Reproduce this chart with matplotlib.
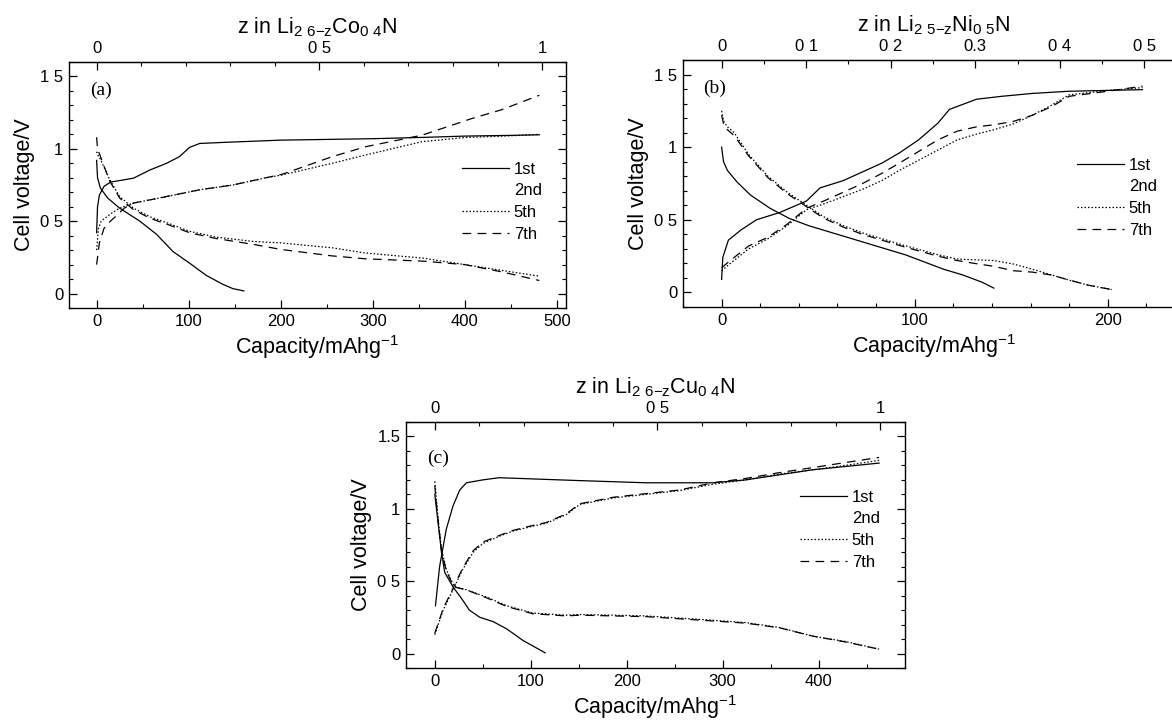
import numpy as np
import matplotlib
matplotlib.use("Agg")
import matplotlib.pyplot as plt
from matplotlib.ticker import MultipleLocator, FixedLocator, FixedFormatter
from matplotlib.lines import Line2D

plt.rcParams['font.family'] = ['Liberation Sans', 'DejaVu Sans']
plt.rcParams['mathtext.default'] = 'regular'

# ---- panel (a) Li2.6-zCo0.4N ----
a_1st_chg_x = [0, 1, 3, 8, 15, 29, 40, 58, 76, 90, 101, 112, 140, 200, 300, 360, 400, 450, 481]
a_1st_chg_y = [0.42, 0.6, 0.68, 0.74, 0.77, 0.785, 0.797, 0.854, 0.9, 0.946, 1.01, 1.037, 1.045, 1.06, 1.07, 1.08, 1.088, 1.093, 1.097]
a_1st_dis_x = [0, 1, 4, 12, 25, 47, 65, 83, 101, 119, 137, 148, 160]
a_1st_dis_y = [0.92, 0.8, 0.73, 0.66, 0.59, 0.5, 0.41, 0.29, 0.21, 0.126, 0.064, 0.034, 0.018]
a_5th_chg_x = [0, 2, 5, 15, 25, 40, 76, 112, 148, 184, 202, 256, 292, 354, 400, 450, 481]
a_5th_chg_y = [0.3, 0.45, 0.5, 0.55, 0.59, 0.625, 0.67, 0.717, 0.75, 0.8, 0.82, 0.9, 0.957, 1.05, 1.078, 1.09, 1.1]
a_7th_chg_x = [0, 3, 8, 15, 22, 30, 40, 76, 112, 148, 184, 202, 256, 292, 354, 408, 440, 481]
a_7th_chg_y = [0.2, 0.35, 0.45, 0.5, 0.54, 0.59, 0.625, 0.67, 0.717, 0.75, 0.8, 0.825, 0.946, 1.014, 1.095, 1.21, 1.27, 1.37]
a_5th_dis_x = [0, 1, 4, 14, 25, 40, 58, 76, 101, 130, 170, 200, 256, 292, 354, 400, 440, 481]
a_5th_dis_y = [0.98, 0.96, 0.93, 0.79, 0.67, 0.59, 0.53, 0.49, 0.43, 0.39, 0.36, 0.35, 0.316, 0.28, 0.245, 0.2, 0.16, 0.12]
a_7th_dis_x = [0, 1, 4, 14, 25, 40, 58, 76, 101, 130, 170, 200, 256, 292, 354, 400, 440, 481]
a_7th_dis_y = [1.08, 1.0, 0.95, 0.78, 0.66, 0.58, 0.52, 0.48, 0.42, 0.38, 0.34, 0.305, 0.26, 0.24, 0.224, 0.2, 0.15, 0.09]

# ---- panel (b) Li2.5-zNi0.5N ----
b_1st_chg_x = [0, 0.6, 3.5, 10, 18, 30, 44, 51, 63, 73, 83, 92, 102, 112, 118, 122, 132, 145, 161, 180, 218]
b_1st_chg_y = [0.09, 0.24, 0.36, 0.43, 0.5, 0.55, 0.63, 0.72, 0.77, 0.83, 0.89, 0.96, 1.05, 1.165, 1.26, 1.28, 1.33, 1.35, 1.37, 1.385, 1.396]
b_1st_dis_x = [0, 1, 3, 8, 15, 25, 35, 45, 55, 65, 75, 85, 95, 105, 115, 125, 135, 141]
b_1st_dis_y = [1.0, 0.9, 0.84, 0.76, 0.67, 0.58, 0.51, 0.46, 0.42, 0.38, 0.34, 0.3, 0.26, 0.21, 0.16, 0.12, 0.07, 0.03]
b_5th_chg_x = [0, 4.5, 14, 24, 34, 44, 53, 63, 73, 83, 92, 102, 112, 122, 132, 141, 151, 161, 171, 180, 200, 218]
b_5th_chg_y = [0.15, 0.2, 0.3, 0.37, 0.46, 0.57, 0.61, 0.66, 0.71, 0.77, 0.84, 0.91, 0.98, 1.05, 1.09, 1.12, 1.16, 1.22, 1.29, 1.36, 1.39, 1.41]
b_7th_chg_x = [0, 4.5, 14, 24, 34, 44, 53, 63, 73, 83, 92, 102, 112, 122, 132, 141, 151, 161, 171, 180, 200, 218]
b_7th_chg_y = [0.17, 0.22, 0.32, 0.38, 0.47, 0.58, 0.63, 0.69, 0.75, 0.82, 0.89, 0.97, 1.05, 1.11, 1.14, 1.154, 1.177, 1.22, 1.28, 1.35, 1.385, 1.42]
b_5th_dis_x = [0, 1, 3, 6.5, 14, 24, 34, 44, 53, 63, 73, 83, 93, 101, 112, 122, 131, 141, 151, 161, 171, 180, 190, 202]
b_5th_dis_y = [1.25, 1.18, 1.14, 1.1, 0.95, 0.8, 0.69, 0.6, 0.52, 0.46, 0.41, 0.37, 0.33, 0.3, 0.26, 0.23, 0.225, 0.22, 0.196, 0.16, 0.12, 0.085, 0.05, 0.02]
b_7th_dis_x = [0, 1, 3, 6.5, 14, 24, 34, 44, 53, 63, 73, 83, 93, 101, 112, 122, 131, 141, 151, 161, 171, 180, 190, 202]
b_7th_dis_y = [1.22, 1.16, 1.12, 1.08, 0.94, 0.79, 0.68, 0.59, 0.51, 0.45, 0.4, 0.36, 0.32, 0.29, 0.25, 0.22, 0.2, 0.18, 0.15, 0.14, 0.12, 0.085, 0.05, 0.02]

# ---- panel (c) Li2.6-zCu0.4N ----
c_1st_chg_x = [0.7, 5, 12, 19, 26, 33, 50, 67, 151, 220, 290, 324, 394, 463]
c_1st_chg_y = [0.33, 0.6, 0.86, 1.02, 1.13, 1.18, 1.2, 1.215, 1.195, 1.18, 1.18, 1.2, 1.27, 1.316]
c_1st_dis_x = [0, 3.5, 7, 10.4, 19, 29, 36, 47, 61, 75, 92, 115]
c_1st_dis_y = [1.1, 0.9, 0.7, 0.56, 0.46, 0.37, 0.3, 0.25, 0.22, 0.17, 0.09, 0.005]
c_5th_chg_x = [0, 8.7, 19, 29, 40, 50, 67, 81, 102, 116, 137, 151, 186, 220, 255, 290, 324, 359, 394, 428, 463]
c_5th_chg_y = [0.13, 0.3, 0.44, 0.58, 0.7, 0.76, 0.81, 0.845, 0.88, 0.9, 0.96, 1.03, 1.075, 1.1, 1.126, 1.17, 1.2, 1.24, 1.27, 1.3, 1.335]
c_7th_chg_x = [0, 8.7, 19, 29, 40, 50, 67, 81, 102, 116, 137, 151, 186, 220, 255, 290, 324, 359, 394, 428, 463]
c_7th_chg_y = [0.14, 0.31, 0.45, 0.59, 0.71, 0.77, 0.815, 0.85, 0.885, 0.905, 0.965, 1.035, 1.08, 1.105, 1.13, 1.18, 1.21, 1.25, 1.285, 1.32, 1.355]
c_5th_dis_x = [0, 3.5, 7, 12, 20, 33, 54, 75, 102, 137, 151, 220, 290, 324, 359, 394, 428, 463]
c_5th_dis_y = [1.19, 0.93, 0.72, 0.58, 0.465, 0.44, 0.39, 0.33, 0.28, 0.265, 0.27, 0.26, 0.23, 0.214, 0.18, 0.12, 0.083, 0.03]
c_7th_dis_x = [0, 3.5, 7, 12, 20, 33, 54, 75, 102, 137, 151, 220, 290, 324, 359, 394, 428, 463]
c_7th_dis_y = [1.16, 0.91, 0.71, 0.57, 0.46, 0.44, 0.385, 0.325, 0.275, 0.26, 0.265, 0.255, 0.225, 0.21, 0.178, 0.12, 0.08, 0.03]

cycle_labels = ['1st', '2nd', '5th', '7th']

fig = plt.figure(figsize=(11.72, 7.2), dpi=100)

dotted = (0, (1.2, 1.6))
dashed = (0, (7, 5))


def make_panel(pos, xlim, xmaj, xmin_, zscale, zmaj, zmin_, zlabels, ylabels, title, tag, legpos, curves):
    ax = fig.add_axes(pos)
    for (xs, ys, ls) in curves:
        ax.plot(xs, ys, color='black', lw=0.9, linestyle=ls)
    ax.set_xlim(*xlim)
    ax.set_ylim(-0.1, 1.6)
    ax.xaxis.set_major_locator(MultipleLocator(xmaj))
    ax.xaxis.set_minor_locator(MultipleLocator(xmin_))
    ax.yaxis.set_major_locator(FixedLocator([0, 0.5, 1, 1.5]))
    ax.yaxis.set_major_formatter(FixedFormatter(ylabels))
    ax.yaxis.set_minor_locator(MultipleLocator(0.1))
    ax.tick_params(which='both', direction='in', top=False, right=True, labelsize=12, pad=4)
    ax.tick_params(which='major', length=6, width=0.9)
    ax.tick_params(which='minor', length=3, width=0.8)
    for s in ax.spines.values():
        s.set_linewidth(1.0)
    ax.set_xlabel('Capacity/mAhg$^{-1}$', fontsize=15.5, labelpad=3)
    ax.set_ylabel('Cell voltage/V', fontsize=15.5, labelpad=4)

    sec = ax.secondary_xaxis('top', functions=(lambda c: c / zscale, lambda z: z * zscale))
    zt = [i * zmaj for i in range(len(zlabels))]
    sec.xaxis.set_major_locator(FixedLocator(zt))
    sec.xaxis.set_major_formatter(FixedFormatter(zlabels))
    sec.xaxis.set_minor_locator(MultipleLocator(zmin_))
    sec.tick_params(which='both', direction='in', labelsize=12, pad=4)
    sec.tick_params(which='major', length=6, width=0.9)
    sec.tick_params(which='minor', length=3, width=0.8)
    sec.set_xlabel(title, fontsize=15.5, labelpad=6)

    ax.text(tag[1], tag[2], tag[0], transform=ax.transAxes, fontsize=14,
            family='Liberation Serif', va='center', ha='left')

    handles = [Line2D([], [], color='black', lw=0.9, linestyle='-'),
               Line2D([], [], linestyle='none'),
               Line2D([], [], color='black', lw=0.9, linestyle=dotted),
               Line2D([], [], color='black', lw=0.9, linestyle=dashed)]
    ax.legend(handles, cycle_labels, loc='upper left', bbox_to_anchor=legpos,
              frameon=False, fontsize=12, handlelength=2.8, handletextpad=0.3,
              labelspacing=0.4, borderpad=0, borderaxespad=0)
    return ax


make_panel([69 / 1172, 412 / 720, 497 / 1172, 246 / 720], (-30, 510), 100, 50,
           484, 0.5, 0.1, ['0', '0 5', '1'], ['0', '0 5', '1', '1 5'],
           'z in Li$_{2\\ 6{-}z}$Co$_{0\\ 4}$N', ('(a)', 0.043, 0.886), (0.791, 0.595),
           [(a_1st_chg_x, a_1st_chg_y, '-'), (a_1st_dis_x, a_1st_dis_y, '-'),
            (a_5th_chg_x, a_5th_chg_y, dotted), (a_5th_dis_x, a_5th_dis_y, dotted),
            (a_7th_chg_x, a_7th_chg_y, dashed), (a_7th_dis_x, a_7th_dis_y, dashed)])

make_panel([683 / 1172, 413 / 720, 502 / 1172, 247 / 720], (-20, 240), 100, 20,
           438, 0.1, 0.05, ['0', '0 1', '0 2', '0.3', '0 4', '0 5'], ['0', '0 5', '1', '1 5'],
           'z in Li$_{2\\ 5{-}z}$Ni$_{0\\ 5}$N', ('(b)', 0.04, 0.887), (0.785, 0.605),
           [(b_1st_chg_x, b_1st_chg_y, '-'), (b_1st_dis_x, b_1st_dis_y, '-'),
            (b_5th_chg_x, b_5th_chg_y, dotted), (b_5th_dis_x, b_5th_dis_y, dotted),
            (b_7th_chg_x, b_7th_chg_y, dashed), (b_7th_dis_x, b_7th_dis_y, dashed)])

make_panel([406 / 1172, 52 / 720, 499 / 1172, 246 / 720], (-30, 490), 100, 50,
           464, 0.5, 0.1, ['0', '0 5', '1'], ['0', '0 5', '1', '1.5'],
           'z in Li$_{2\\ 6{-}z}$Cu$_{0\\ 4}$N', ('(c)', 0.042, 0.854), (0.79, 0.725),
           [(c_1st_chg_x, c_1st_chg_y, '-'), (c_1st_dis_x, c_1st_dis_y, '-'),
            (c_5th_chg_x, c_5th_chg_y, dotted), (c_5th_dis_x, c_5th_dis_y, dotted),
            (c_7th_chg_x, c_7th_chg_y, dashed), (c_7th_dis_x, c_7th_dis_y, dashed)])

fig.savefig('out.png', dpi=100)
